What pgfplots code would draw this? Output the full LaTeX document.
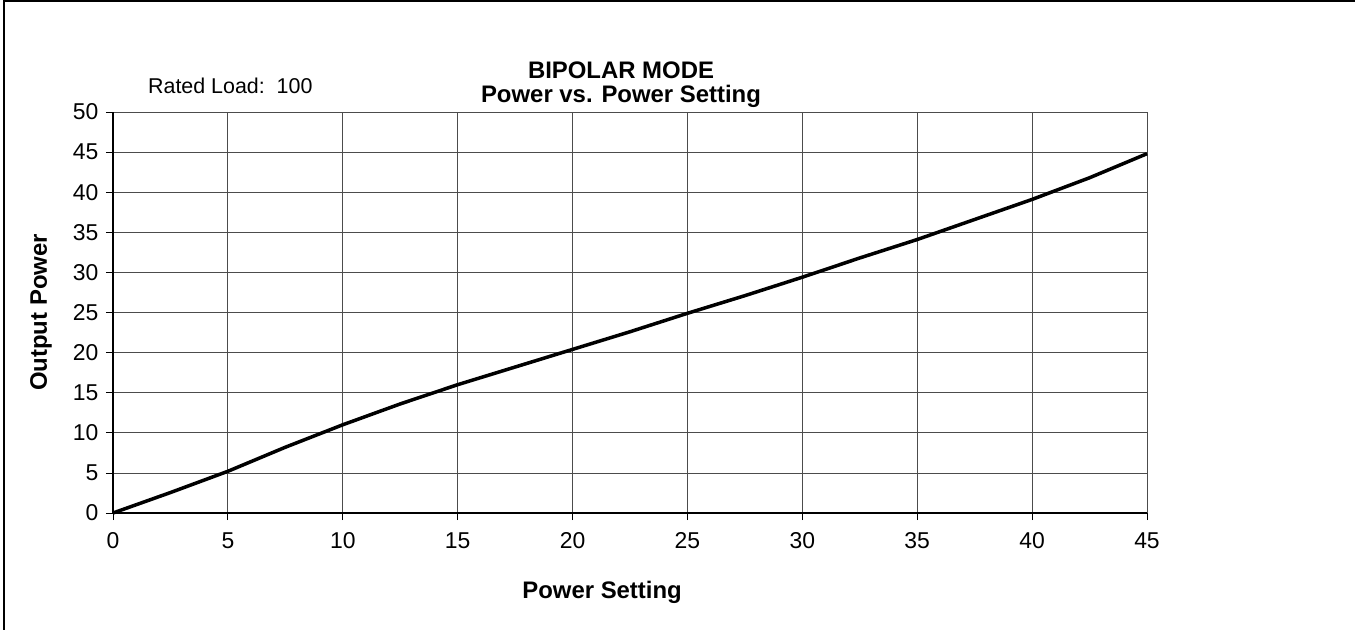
\documentclass[border=0pt]{standalone}
\usepackage{fontspec}
\setmainfont{Liberation Sans}
\usepackage{pgfplots}
\pgfplotsset{compat=1.18}

\begin{document}
\begin{tikzpicture}
  % page size of the reference, origin at the plot's lower left corner
  \useasboundingbox (-113bp,-117bp) rectangle (1242bp,513bp);
  \draw[line width=1.5bp] (-109bp,-117bp) -- (-109bp,512bp) -- (1242bp,512bp);

  \begin{axis}[
      at={(0,0)}, anchor=south west,
      scale only axis,
      width=1034bp, height=401bp,
      xmin=0, xmax=45, ymin=0, ymax=50,
      xtick={0,5,...,45}, ytick={0,5,...,50},
      grid=major,
      major grid style={line width=0.8bp, color=black!70},
      axis line style={line width=1.2bp},
      tick align=outside,
      major tick length=7bp,
      tick style={line width=0.8bp, color=black},
      axis x line*=bottom, axis y line*=left,
      clip=false,
      /pgf/number format/assume math mode=true,
      ticklabel style={font=\fontsize{23}{27}\selectfont},
      xticklabel style={yshift=-9bp},
      yticklabel style={xshift=-4bp},
      xlabel={Power Setting},
      ylabel={Output Power},
      label style={font=\fontsize{24}{28}\selectfont\bfseries},
      xlabel style={at={(axis description cs:0.473,-0.197)}, anchor=center},
      ylabel style={at={(axis description cs:-0.0696,0.5)}, anchor=center},
    ]
    \addplot[line width=3.5bp, black] coordinates {
      (0,0) (2.5,2.55) (5,5.2) (7.5,8.2) (10,11.0) (12.5,13.6)
      (15,16.0) (17.5,18.2) (20,20.4) (22.5,22.6) (25,24.9) (27.5,27.1)
      (30,29.4) (32.5,31.8) (35,34.1) (37.5,36.6) (40,39.1) (42.5,41.8)
      (45,44.8)
    };
    \node[font=\fontsize{24}{28}\selectfont\bfseries]
      at (axis description cs:0.4913,1.1047) {BIPOLAR MODE};
    \node[font=\fontsize{24}{28}\selectfont\bfseries]
      at (axis description cs:0.4913,1.0399) {Power vs. Power Setting};
    \node[font=\fontsize{21.5}{26}\selectfont, anchor=west, inner sep=0pt]
      at (axis description cs:0.0338,1.065) {Rated Load:\ \ 100};
  \end{axis}
\end{tikzpicture}
\end{document}
